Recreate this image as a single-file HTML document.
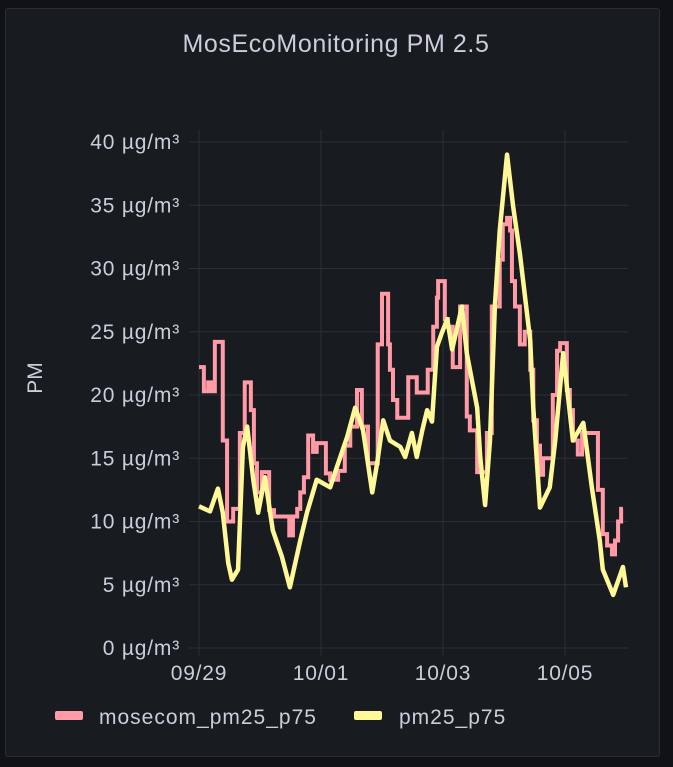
<!DOCTYPE html>
<html><head><meta charset="utf-8"><style>
body{margin:0;background:#111217;width:673px;height:767px;overflow:hidden;font-family:"Liberation Sans",sans-serif}
#panel{position:absolute;left:5px;top:8px;width:655px;height:749px;background:#181b1f;border:1px solid #2a2d33;border-radius:3px;box-sizing:border-box}
svg{position:absolute;left:0;top:0}
</style></head><body>
<div id="panel"></div>
<svg id="chart" width="673" height="767">
<text x="336" y="52" text-anchor="middle" fill="#ccccdc" font-size="25" letter-spacing="0.6">MosEcoMonitoring PM 2.5</text>
<text transform="translate(42,378) rotate(-90)" text-anchor="middle" fill="#ccccdc" font-size="21">PM</text>
<g id="grid"></g><g id="series"></g>
<g>
<rect x="55" y="711" width="28" height="9" rx="2" fill="#ff9aa6"/>
<text x="99" y="724" fill="#ccccdc" font-size="21" letter-spacing="1">mosecom_pm25_p75</text>
<rect x="354" y="711" width="28" height="9" rx="2" fill="#fff899"/>
<text x="399" y="724" fill="#ccccdc" font-size="21" letter-spacing="1">pm25_p75</text>
</g>
</svg>
<script>
const yTicks=[0,5,10,15,20,25,30,35,40];
const xTickLabels=["09/29","10/01","10/03","10/05"];
const xTickDays=[0,2,4,6];
const pinkDays=[0,0.08,0.15,0.20,0.26,0.39,0.46,0.56,0.67,0.75,0.85,0.90,0.95,1.03,1.15,1.23,1.48,1.54,1.61,1.66,1.72,1.79,1.87,1.93,2.08,2.15,2.28,2.39,2.48,2.59,2.67,2.77,2.93,3.0,3.10,3.13,3.18,3.25,3.43,3.57,3.75,3.84,3.90,3.92,4.03,4.08,4.16,4.28,4.39,4.44,4.56,4.72,4.80,4.93,4.98,5.05,5.10,5.13,5.18,5.26,5.34,5.43,5.48,5.54,5.59,5.64,5.80,5.87,5.92,6.03,6.08,6.13,6.21,6.28,6.54,6.62,6.69,6.77,6.82,6.87,6.92];
const pinkVals=[22.2,20.3,21,20.3,24.2,16.4,10,11,17,21,18.8,14.6,12.3,13.9,10.9,10.4,8.9,10.4,11,12.3,13.5,16.8,15.5,16.2,13.8,13.3,14,16,17.5,20.4,17.5,14.6,24,28,24,22,19.6,18.2,21.4,20.2,22,25.4,27.7,29,26,25.4,22.2,27,18.3,17.2,13.9,17,27,30.7,33.5,34,33,29,27,24,25,22,18,16,13.7,15,20,23.5,24.1,20.4,18.8,16.4,15.3,17,12.5,9,8.1,7.4,8.5,10,11];
const pinkEnd=6.95;
const yellowDays=[0,0.18,0.31,0.39,0.48,0.54,0.64,0.72,0.79,0.89,0.97,1.08,1.21,1.36,1.49,1.66,1.77,1.93,2.15,2.26,2.43,2.56,2.69,2.84,2.92,3.02,3.13,3.30,3.38,3.49,3.57,3.66,3.74,3.82,3.90,3.98,4.07,4.15,4.31,4.39,4.56,4.61,4.69,4.77,4.85,4.93,5.05,5.15,5.26,5.43,5.48,5.59,5.75,5.84,5.97,6.13,6.30,6.44,6.57,6.62,6.79,6.95,7.0];
const yellowVals=[11.2,10.8,12.6,10.7,6.7,5.4,6.2,15.9,17.5,13.3,10.7,13.5,9.3,7.2,4.8,8.5,10.7,13.3,12.7,14.3,16.7,19,17.2,12.3,14.6,18,16.4,15.9,15.1,17,15.1,17.2,18.8,17.9,23.8,24.9,26,23.6,27,23.3,19,15.1,11.3,16.4,27,33,39,34.9,31.2,24.3,19,11.1,12.7,16.4,23.3,16.4,17.8,12.7,8.5,6.2,4.2,6.4,4.8];
const X0=199,PX_DAY=61,Y0=648,PX_UNIT=12.65,GL=189,GR=628;
const xs=d=>X0+d*PX_DAY, ys=v=>Y0-v*PX_UNIT;
const NS="http://www.w3.org/2000/svg";
const grid=document.getElementById('grid'),series=document.getElementById('series');
yTicks.forEach(t=>{
 const l=document.createElementNS(NS,'line');
 l.setAttribute('x1',GL);l.setAttribute('x2',GR);l.setAttribute('y1',ys(t));l.setAttribute('y2',ys(t));
 l.setAttribute('stroke','#2c2f35');
 
 
 grid.appendChild(l);
 const tx=document.createElementNS(NS,'text');
 tx.setAttribute('x',180);tx.setAttribute('y',ys(t)+7);tx.setAttribute('text-anchor','end');
 tx.setAttribute('fill','#ccccdc');tx.setAttribute('font-size','21');tx.setAttribute('letter-spacing','0.8');
 tx.textContent=t+' µg/m³';
 
 
 grid.appendChild(tx);
});
xTickDays.forEach((d,i)=>{
 const l=document.createElementNS(NS,'line');
 l.setAttribute('x1',xs(d));l.setAttribute('x2',xs(d));l.setAttribute('y1',130);l.setAttribute('y2',656);
 l.setAttribute('stroke','#2c2f35');
 
 
 grid.appendChild(l);
 const tx=document.createElementNS(NS,'text');
 tx.setAttribute('x',xs(d));tx.setAttribute('y',680);tx.setAttribute('text-anchor','middle');
 tx.setAttribute('fill','#ccccdc');tx.setAttribute('font-size','21');tx.setAttribute('letter-spacing','0.8');
 tx.textContent=xTickLabels[i];
 
 
 grid.appendChild(tx);
});
let pd='';
pinkDays.forEach((d,i)=>{
 if(i===0)pd+='M'+xs(d)+' '+ys(pinkVals[i]);
 else pd+=' H'+xs(d)+' V'+ys(pinkVals[i]);
});
pd+=' H'+xs(pinkEnd);
const pp=document.createElementNS(NS,'path');
pp.setAttribute('d',pd);pp.setAttribute('fill','none');pp.setAttribute('stroke','#ff9aa6');pp.setAttribute('stroke-width','4');


series.appendChild(pp);
const yd=yellowDays.map((d,i)=>(i?'L':'M')+xs(d)+' '+ys(yellowVals[i])).join(' ');
const yp=document.createElementNS(NS,'path');
yp.setAttribute('d',yd);yp.setAttribute('fill','none');yp.setAttribute('stroke','#fff899');yp.setAttribute('stroke-width','4.5');yp.setAttribute('stroke-linejoin','round');


series.appendChild(yp);
</script>
</body></html>
